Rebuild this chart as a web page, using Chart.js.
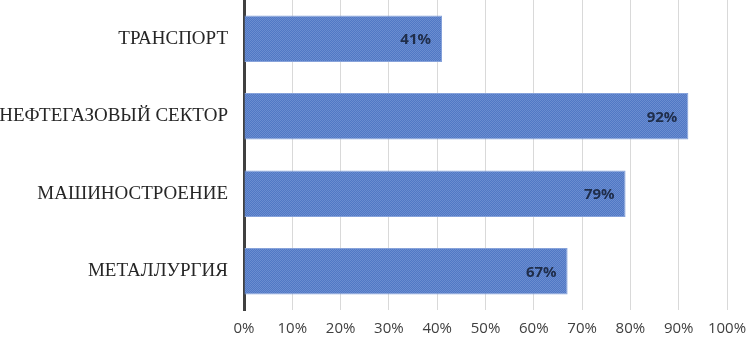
<!DOCTYPE html>
<html><head><meta charset="utf-8">
<script src="https://cdn.jsdelivr.net/npm/chart.js@4"></script>
<style>html,body{margin:0;padding:0;background:#fff}#w{width:749px;height:341px}</style>
</head><body><div id="w"><canvas id="c" width="749" height="341"></canvas></div>
<script>
const categories = ['ТРАНСПОРТ', 'НЕФТЕГАЗОВЫЙ СЕКТОР', 'МАШИНОСТРОЕНИЕ', 'МЕТАЛЛУРГИЯ'];
const values = [41, 92, 79, 67];
const xTicks = [0, 10, 20, 30, 40, 50, 60, 70, 80, 90, 100];

function makePattern() {
  const p = document.createElement('canvas');
  p.width = 2; p.height = 2;
  const g = p.getContext('2d');
  g.fillStyle = '#5078c5'; g.fillRect(0, 0, 2, 2);
  g.fillStyle = '#6b8dd0'; g.fillRect(0, 0, 1, 1); g.fillRect(1, 1, 1, 1);
  return g.createPattern(p, 'repeat');
}

const labelPlugin = {
  id: 'valLabels',
  afterDatasetsDraw(chart) {
    const ctx = chart.ctx;
    const meta = chart.getDatasetMeta(0);
    ctx.save();
    ctx.font = 'bold 15px "Open Sans", sans-serif';
    ctx.fillStyle = '#1f2d4a';
    ctx.textAlign = 'right';
    ctx.textBaseline = 'middle';
    meta.data.forEach((bar, i) => {
      ctx.fillText(values[i] + '%', bar.x - 11, bar.y + 1);
    });
    ctx.restore();
  }
};

new Chart(document.getElementById('c'), {
  type: 'bar',
  data: {
    labels: categories,
    datasets: [{
      data: values,
      backgroundColor: makePattern(),
      borderColor: '#86a2da',
      borderWidth: 1,
      borderSkipped: 'start',
      categoryPercentage: 0.6,
      barPercentage: 1.0
    }]
  },
  options: {
    indexAxis: 'y',
    responsive: false,
    animation: false,
    layout: { padding: { left: 0, right: 0, top: 0, bottom: 0 } },
    plugins: { legend: { display: false }, tooltip: { enabled: false } },
    scales: {
      x: {
        min: 0, max: 100,
        afterBuildTicks(scale) { scale.ticks = xTicks.map(v => ({ value: v })); },
        afterFit(scale) { scale.height = 31; scale.paddingLeft = 0; scale.paddingRight = 22; },
        ticks: {
          callback: v => v + '%',
          color: '#404040',
          font: { family: '"Open Sans", sans-serif', size: 15 },
          padding: 10,
          maxRotation: 0
        },
        grid: { color: '#d9d9d9', lineWidth: 1, drawTicks: false },
        border: { display: false }
      },
      y: {
        afterFit(scale) { scale.width = 244; scale.paddingTop = 0; scale.paddingBottom = 0; },
        ticks: {
          color: '#262626',
          font: { family: '"Liberation Serif", serif', size: 19 },
          padding: 16
        },
        grid: { display: false, drawTicks: false },
        border: { color: '#404040', width: 3 }
      }
    }
  },
  plugins: [labelPlugin]
});
</script>
</body></html>
